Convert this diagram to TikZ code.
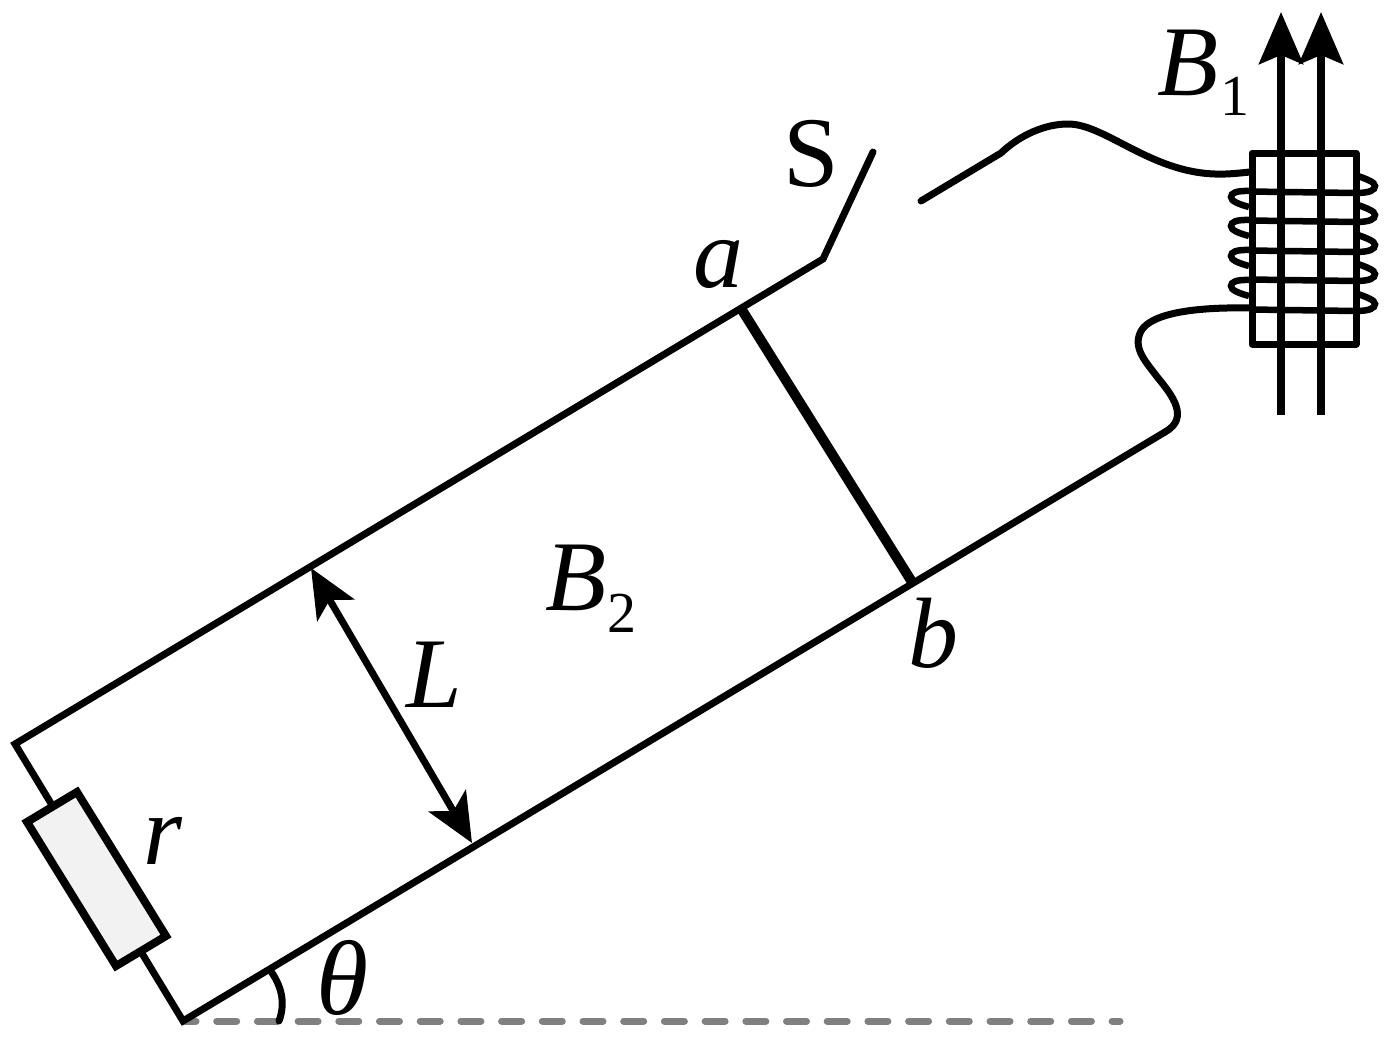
\documentclass[tikz,border=0pt]{standalone}
\usepackage{fontspec}
\setmainfont{Liberation Serif}
\usetikzlibrary{arrows.meta}
\newcommand{\bigtxt}{\fontsize{100}{100}\selectfont}
\newcommand{\subtxt}{\fontsize{58}{58}\selectfont}
\tikzset{
  wire/.style={line width=7pt,line join=miter,black},
  coil/.style={line width=6.5pt,black},
  lab/.style={inner sep=0pt,anchor=base west,font=\bigtxt\itshape},
  sublab/.style={inner sep=0pt,anchor=base west,font=\subtxt},
  fieldarrow/.style={line width=7.5pt,-{Stealth[length=52pt,width=44pt,inset=9pt]}},
  dimarrow/.style={line width=7pt,{Stealth[length=49pt,width=43pt,inset=12pt]}-{Stealth[length=49pt,width=43pt,inset=12pt]}}
}
\begin{document}
\begin{tikzpicture}[x=1pt,y=-1pt]
\useasboundingbox (0,0) rectangle (1388,1036);
% coordinates
\coordinate (A) at (15,744);
\coordinate (C) at (183,1021);
\coordinate (K) at (823,259);
\coordinate (Blade) at (873,152);
\coordinate (E) at (1165,432);
\coordinate (Ra) at (742,310);
\coordinate (Rb) at (912,582);
\coordinate (La) at (311,568);
\coordinate (Lb) at (472,843);
\coordinate (D1) at (183,1021);
\coordinate (D2) at (1120,1021);
% dashed ground
\draw[line width=7pt,color=black!50,line cap=round,dash pattern=on 20pt off 20.7pt,dash phase=7pt] (D1) -- (D2);
% rails
\draw[wire,line cap=round] (Blade) -- (K) -- (A) -- (C) -- (E);
\draw[line width=10pt,line cap=butt] (Ra) -- (Rb);
% resistor
\draw[line width=8pt,line join=miter,fill=black!5] (27,822) -- (77,792) -- (166,936) -- (116,966) -- cycle;
% L arrow
\draw[dimarrow] (La) -- (Lb);
% angle
\draw[line width=7pt,line cap=round] (270,970) .. controls (281,985) and (286,1002) .. (279,1021);
% switch contact and upper wire
\draw[wire,line cap=round,line join=round] (921,201) -- (1001,153) .. controls (1020,135) and (1045,124) .. (1068,124) .. controls (1105,124) and (1150,172) .. (1215,174) .. controls (1228,174.5) and (1240,173) .. (1250,172);
% lower wire
\draw[wire,line cap=round,line join=round] (1165,432) .. controls (1190,418) and (1172,395) .. (1158,378) .. controls (1146,362) and (1132,348) .. (1141,331) .. controls (1152,312) and (1200,307) .. (1250,308);
% coil lobes
\foreach \y in {191,220,250,280}{
  \draw[coil] (1250,\y) .. controls (1236,\y-0.5) and (1231,\y+2) .. (1231,\y+6) .. controls (1231,\y+10) and (1238,\y+13) .. (1249,\y+16);
}
\foreach \y in {193,222,252,281,311}{
  \draw[coil] (1250,\y-1.5) -- (1356,\y);
  \draw[coil] (1356,\y) .. controls (1370,\y) and (1375,\y-3) .. (1375,\y-7) .. controls (1375,\y-11) and (1366,\y-14) .. (1358,\y-17);
}
% core
\draw[line width=7pt,line join=round] (1252,153) rectangle (1356,344);
% field arrows
\coordinate (F1a) at (1281,415);
\coordinate (F1b) at (1281,12);
\coordinate (F2a) at (1321,415);
\coordinate (F2b) at (1321,12);
\draw[fieldarrow] (F1a) -- (F1b);
\draw[fieldarrow] (F2a) -- (F2b);
% labels
\node[inner sep=0pt,anchor=base west,font=\fontsize{100}{100}\selectfont] (S) at (783,186) {S};
\node[lab] (a) at (693,287) {a};
\node[lab] (b) at (908,667) {b};
\node[lab] (B2) at (545,610) {B};
\node[sublab] (s2) at (607,632) {2};
\node[lab] (L) at (406,707) {L};
\node[lab] (r) at (143,864) {r};
\node[lab,font=\fontsize{106}{106}\selectfont\itshape] (th) at (316,1014) {θ};
\node[lab] (B1) at (1157,95) {B};
\node[sublab] (s1) at (1220,115) {1};
\end{tikzpicture}
\end{document}
